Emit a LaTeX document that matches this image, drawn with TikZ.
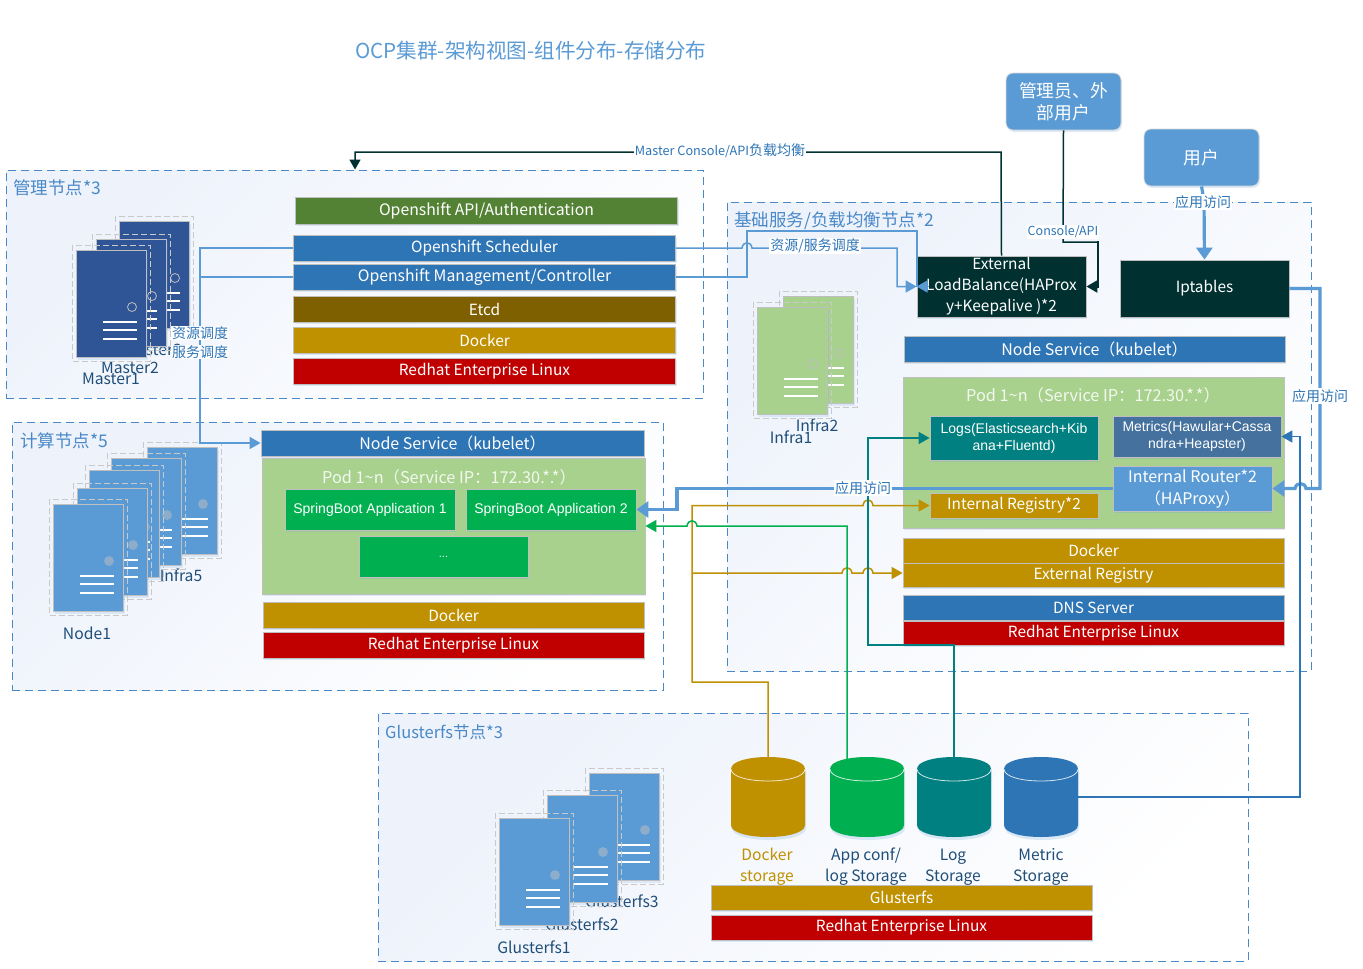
\documentclass[tikz,border=0pt]{standalone}
\usepackage{fontspec}
\setmainfont{Noto Sans CJK SC}
\newfontfamily\arl{Liberation Sans}
\usetikzlibrary{arrows.meta,shadows}
\definecolor{cblue}{HTML}{2E75B6}
\definecolor{lblue}{HTML}{5B9BD5}
\definecolor{zoneb}{HTML}{4A89C8}
\definecolor{dblue}{HTML}{2F5597}
\definecolor{navy}{HTML}{1F4E79}
\definecolor{cgreen}{HTML}{548235}
\definecolor{pgreen}{HTML}{A9D18E}
\definecolor{bgreen}{HTML}{00B050}
\definecolor{brown}{HTML}{7F6000}
\definecolor{gold}{HTML}{BF9000}
\definecolor{cred}{HTML}{C00000}
\definecolor{dteal}{HTML}{003030}
\definecolor{teal2}{HTML}{008080}
\definecolor{metr}{HTML}{44719E}
\definecolor{gborder}{HTML}{BFBFBF}
\definecolor{zonetint}{HTML}{EDF2FB}
\newcommand\dn[2]{\raisebox{-#1pt}{#2}}
\tikzset{
 zone/.style={draw=zoneb,line width=.9pt,dash pattern=on 8pt off 5pt,top color=zonetint,bottom color=white,shading angle=45},
 zonelabel/.style={text=zoneb,font=\fontsize{17.5}{20}\selectfont,inner sep=0pt,anchor=west},
 box/.style={draw=gborder,line width=.8pt,text=white,align=center,inner sep=0pt,font=\fontsize{15.4}{21}\selectfont,
   drop shadow={shadow xshift=1pt,shadow yshift=-2pt,opacity=.18,fill=lblue}},
 bigbox/.style={box,font=\fontsize{16}{22}\selectfont},
 arbox/.style={box,font=\arl\fontsize{14}{17}\selectfont},
 user/.style={draw=gborder!60,fill=lblue,rounded corners=7pt,text=white,align=center,line width=.8pt,inner sep=0pt,font=\fontsize{17.8}{22}\selectfont,
   drop shadow={shadow xshift=1pt,shadow yshift=-2pt,opacity=.18,fill=lblue}},
 srvlabel/.style={text=navy,font=\fontsize{15.7}{17}\selectfont,inner sep=0pt},
 stlabel/.style={text=navy,font=\fontsize{15.6}{21}\selectfont,inner sep=0pt,align=center},
 cnlabel/.style={fill=white,text=cblue,font=\fontsize{14}{16}\selectfont,inner sep=1pt},
 podtitle/.style={text=white!85!pgreen,inner sep=0pt,font=\fontsize{16.3}{19}\selectfont},
 conn/.style={line width=1.5pt,line join=miter},
 tipA/.style={-{Triangle[length=11pt,width=12pt]}},
 tipB/.style={-{Triangle[length=12pt,width=16pt]}},
 frame/.style={draw=gborder!85,line width=.8pt,dash pattern=on 6pt off 3pt},
}
% x y fill dot-fill dot-draw
\newcommand\srv[5]{%
 \begin{scope}[shift={(#1,#2)}]
  \fill[lblue,opacity=.15] (2,3) rectangle (72,110);
  \draw[draw=gborder,line width=.8pt,fill=#3] (0,0) rectangle (70,107);
  \draw[frame] (-4,-5) rectangle (74,111);
  \draw[fill=#4,draw=#5,line width=.8pt] (56,57) circle (4.5);
  \draw[white,line width=1.5pt] (27,72) -- (61,72) (27,80) -- (61,80) (27,89) -- (61,89);
 \end{scope}}
% name x fill
\newcommand\cyl[3]{%
 \fill[lblue,opacity=.2] (#2+1,771) -- (#2+1,828) .. controls (#2+1,844) and (#2+75,844) .. (#2+75,828) -- (#2+75,771) -- cycle;
 \fill[#3] (#2,769) -- (#2,825) .. controls (#2,841) and (#2+74,841) .. (#2+74,825) -- (#2+74,769) .. controls (#2+74,753) and (#2,753) .. cycle;
 \draw[white!80!#3,line width=.8pt] (#2,769) .. controls (#2,785) and (#2+74,785) .. (#2+74,769);
 \node[minimum width=74pt,minimum height=80pt,inner sep=0pt] (#1) at (#2+37,797) {};}
\begin{document}
\begin{tikzpicture}[x=1pt,y=-1pt]
\useasboundingbox (0,0) rectangle (1363,969);
\fill[white] (0,0) rectangle (1363,969);
% zones
\node[zone,minimum width=697pt,minimum height=228pt,inner sep=0pt] (zm) at (354.5,284) {};
\node[zone,minimum width=651pt,minimum height=268pt,inner sep=0pt] (zc) at (337.5,556) {};
\node[zone,minimum width=584pt,minimum height=469pt,inner sep=0pt] (zi) at (1019,436.5) {};
\node[zone,minimum width=870pt,minimum height=248pt,inner sep=0pt] (zg) at (813,837) {};
\node[zonelabel] (lzm) at (13,188) {管理节点*3};
\node[zonelabel] (lzc) at (20,441) {计算节点*5};
\node[zonelabel] (lzi) at (734,221) {基础服务/负载均衡节点*2};
\node[zonelabel,font=\fontsize{16.5}{19}\selectfont] (lzg) at (385,732) {Glusterfs节点*3};
\node[anchor=west,inner sep=0pt,text=lblue,font=\fontsize{20.6}{24}\selectfont] (title) at (355,51) {OCP集群-架构视图-组件分布-存储分布};
% server labels (partly hidden by servers)
\node[srvlabel] (lm3) at (153,350) {Master3};
\node[srvlabel] (lm2) at (130,368) {Master2};
\node[srvlabel] (lm1) at (111,379) {Master1};
\node[srvlabel] (ln5) at (181,575) {Infra5};
\node[srvlabel] (ln1) at (87,633) {Node1};
\node[srvlabel] (li2) at (817,425) {Infra2};
\node[srvlabel] (li1) at (791,437) {Infra1};
\node[srvlabel] (lg3) at (622,901) {Glusterfs3};
\node[srvlabel] (lg2) at (582,924) {Glusterfs2};
\node[srvlabel] (lg1) at (534,947) {Glusterfs1};
% servers
\srv{119}{221}{dblue}{dblue}{gborder}
\srv{96}{239}{dblue}{dblue}{gborder}
\srv{76}{250}{dblue}{dblue}{gborder}
\srv{147}{447}{lblue}{lblue!50!gborder}{lblue!50!gborder}
\srv{111}{458}{lblue}{lblue!50!gborder}{lblue!50!gborder}
\srv{89}{470}{lblue}{lblue!50!gborder}{lblue!50!gborder}
\srv{77}{488}{lblue}{lblue!50!gborder}{lblue!50!gborder}
\srv{53}{504}{lblue}{lblue!50!gborder}{lblue!50!gborder}
\srv{783}{296}{pgreen}{pgreen}{gborder}
\srv{757}{307}{pgreen}{pgreen}{gborder}
\srv{589}{773}{lblue}{lblue!50!gborder}{lblue!50!gborder}
\srv{547}{795}{lblue}{lblue!50!gborder}{lblue!50!gborder}
\srv{499}{818}{lblue}{lblue!50!gborder}{lblue!50!gborder}
% management bars
\node[box,font=\fontsize{15.8}{21}\selectfont,fill=cgreen,minimum width=382pt,minimum height=27pt] (api) at (486.5,210.5) {\dn{2}{Openshift API/Authentication}};
\node[box,fill=cblue,minimum width=382pt,minimum height=26pt] (sched) at (484.5,248) {Openshift Scheduler};
\node[box,font=\fontsize{15.8}{21}\selectfont,fill=cblue,minimum width=382pt,minimum height=26pt] (mgmt) at (484.5,277) {\dn{1}{Openshift Management/Controller}};
\node[box,fill=brown,minimum width=382pt,minimum height=26pt] (etcd) at (484.5,309) {Etcd};
\node[box,fill=gold,minimum width=382pt,minimum height=26pt] (dkm) at (484.5,340) {Docker};
\node[box,fill=cred,minimum width=382pt,minimum height=26pt] (rhm) at (484.5,371) {\dn{2}{Redhat Enterprise Linux}};
% compute
\node[bigbox,fill=cblue,minimum width=383pt,minimum height=26pt] (nsc) at (452.5,443) {Node Service（kubelet）};
\node[box,fill=pgreen,minimum width=383pt,minimum height=136pt] (podc) at (453.5,526) {};
\node[podtitle] (podct) at (449,477) {Pod 1\textasciitilde n（Service IP：172.30.*.*）};
\node[arbox,fill=bgreen,minimum width=170pt,minimum height=41pt] (sb1) at (370,509.5) {SpringBoot Application 1};
\node[arbox,fill=bgreen,minimum width=170pt,minimum height=41pt] (sb2) at (551,509.5) {SpringBoot Application 2};
\node[arbox,fill=bgreen,minimum width=169pt,minimum height=41pt,font=\arl\fontsize{11}{13}\selectfont] (sb3) at (443.5,556.5) {...};
\node[box,fill=gold,minimum width=381pt,minimum height=26pt] (dkc) at (453.5,615) {Docker};
\node[box,fill=cred,minimum width=381pt,minimum height=26pt] (rhc) at (453.5,645) {\dn{2}{Redhat Enterprise Linux}};
% infra
\node[box,fill=dteal,minimum width=169pt,minimum height=61pt] (lb) at (1001.5,286.5) {External\\LoadBalance(HAProx\\y+Keepalive )*2};
\node[box,fill=dteal,minimum width=169pt,minimum height=57pt] (ipt) at (1204.5,288.5) {Iptables};
\node[bigbox,fill=cblue,minimum width=381pt,minimum height=26pt] (nsi) at (1094.5,349) {Node Service（kubelet）};
\node[box,fill=pgreen,minimum width=381pt,minimum height=151pt] (podi) at (1093.5,452.5) {};
\node[podtitle] (podit) at (1093,395) {Pod 1\textasciitilde n（Service IP：172.30.*.*）};
\node[arbox,fill=teal2,minimum width=168pt,minimum height=44pt] (logs) at (1014,438) {Logs(Elasticsearch+Kib\\ana+Fluentd)};
\node[arbox,fill=metr,minimum width=168pt,minimum height=41pt] (metrics) at (1197,436.5) {Metrics(Hawular+Cassa\\ndra+Heapster)};
\node[bigbox,fill=lblue,minimum width=159pt,minimum height=45pt] (router) at (1192.5,488.5) {Internal Router*2\\（HAProxy）};
\node[box,fill=gold,minimum width=168pt,minimum height=25pt] (ireg) at (1014,505.5) {\dn{1}{Internal Registry*2}};
\node[box,fill=gold,minimum width=381pt,minimum height=25pt] (dki) at (1093.5,550.5) {Docker};
\node[box,fill=gold,minimum width=381pt,minimum height=24pt] (ereg) at (1093.5,575) {External Registry};
\node[box,fill=cblue,minimum width=381pt,minimum height=25pt] (dns) at (1093.5,607.5) {DNS Server};
\node[box,fill=cred,minimum width=381pt,minimum height=24pt] (rhi) at (1093.5,633) {Redhat Enterprise Linux};
% gluster
\node[box,fill=gold,minimum width=381pt,minimum height=25pt] (glf) at (901.5,897.5) {Glusterfs};
\node[box,fill=cred,minimum width=381pt,minimum height=25pt] (rhg) at (901.5,927.5) {\dn{2}{Redhat Enterprise Linux}};
% users
\node[user,minimum width=115pt,minimum height=57pt] (admin) at (1063.5,101.5) {管理员、外\\部用户};
\node[user,minimum width=115pt,minimum height=57pt] (usr) at (1201.5,157.5) {用户};
% storage
\cyl{dockers}{731}{gold}
\cyl{appconf}{830}{bgreen}
\cyl{logst}{917}{teal2}
\cyl{metricst}{1004}{cblue}
% connectors
\draw[conn,draw=dteal,-{Triangle[length=10pt,width=11pt]}] (lb.north) -- (1001,152) -- (355,152) -- (355,152 |- zm.north);
\draw[conn,draw=dteal] (admin.south) -- (1063,242) -- (1098,242);
\draw[line width=2.4pt,draw=dteal,-{Triangle[length=11pt,width=12pt]}] (1098,241) -- (1098,286.5) -- (lb.east);
\draw[conn,draw=lblue] (sched.west) -- (200,248) -- (200,277);
\draw[conn,draw=lblue,tipA] (mgmt.west) -- (200,277) -- (200,443) -- (nsc.west);
\draw[conn,draw=lblue,tipA] (sched.east) -- (742,248) .. controls (743,241) and (751,241) .. (752,248) -- (897,248) -- (897,286.5) -- (lb.west);
\draw[conn,draw=lblue,tipA] (mgmt.east) -- (747,277) -- (747,231) -- (917,231) -- (917,286.5) -- (929,286.5) -- (lb.west);
\draw[line width=3.2pt,draw=lblue,tipB] (usr.south) -- (1204,200) -- (ipt.north);
\draw[line width=3.2pt,draw=lblue,tipB] (ipt.east) -- (1320,288.5) -- (1320,488.5) -- (1306,488.5) .. controls (1305,482) and (1296,482) .. (1295,488.5) -- (router.east);
\draw[conn,draw=gold,tipA] (dockers.north) -- (768,682) -- (692,682) -- (692,505.5) -- (863,505.5) .. controls (864,498) and (872,498) .. (873,505.5) -- (ireg.west);
\draw[conn,draw=gold,tipA] (692,573) -- (842,573) .. controls (843,566) and (851,566) .. (852,573) -- (863,573) .. controls (864,566) and (872,566) .. (873,573) -- ([yshift=2pt]ereg.west);
\draw[conn,draw=bgreen,tipA] ([xshift=-20pt,yshift=-2pt]appconf.north) -- (847,526) -- (697,526) .. controls (696,519) and (688,519) .. (687,526) -- (podc.east);
\draw[conn,draw=teal2,tipA] (logst.north) -- (954,645) -- (868,645) -- (868,438) -- (logs.west);
\draw[conn,draw=cblue,tipA] (metricst.east) -- (1300,797) -- (1300,436.5) -- (metrics.east);
\draw[line width=3.2pt,draw=lblue,tipB] (router.west) -- (677,488.5) -- (677,509.5) -- (sb2.east);
% connector labels
\node[cnlabel] (c1) at (720,151) {{\fontsize{12.7}{14}\selectfont Master Console/API}负载均衡};
\node[cnlabel,font=\fontsize{12.5}{14}\selectfont] (c2) at (1063,232) {Console/API};
\node[cnlabel] (c3) at (1203,202) {应用访问};
\node[cnlabel] (c4) at (1320,396) {应用访问};
\node[cnlabel] (c5) at (863,488) {应用访问};
\node[cnlabel] (c6) at (815,246) {资源/服务调度};
\node[cnlabel] (c7) at (200,333) {资源调度};
\node[cnlabel] (c8) at (200,352) {服务调度};
\node[stlabel,text=gold] (s1) at (767,867) {Docker\\storage};
\node[stlabel] (s2) at (866,867) {App conf/\\log Storage};
\node[stlabel] (s3) at (953,867) {Log\\Storage};
\node[stlabel] (s4) at (1041,867) {Metric\\Storage};
\end{tikzpicture}
\end{document}
